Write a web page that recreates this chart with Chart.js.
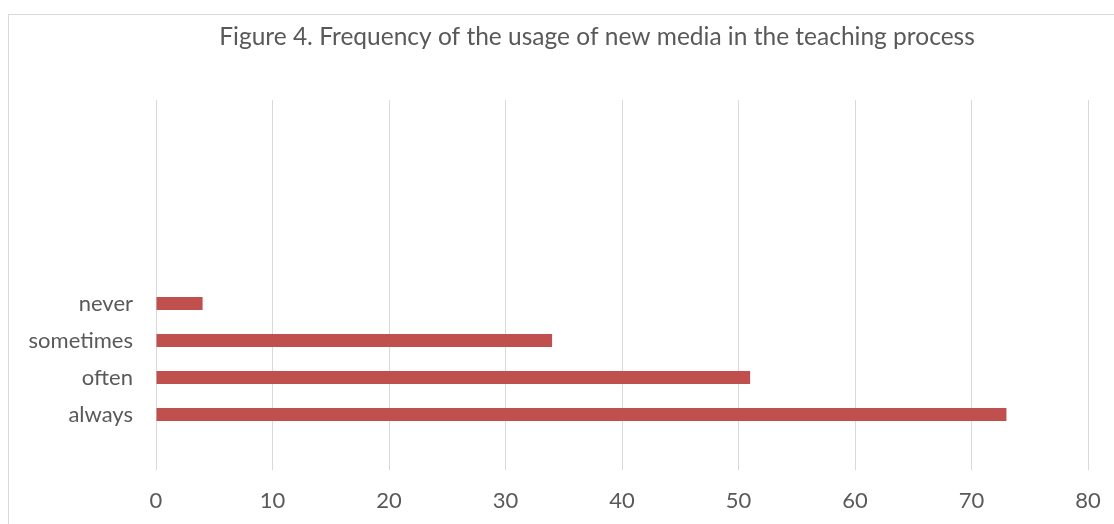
<!DOCTYPE html>
<html>
<head>
<meta charset="utf-8">
<script src="https://cdn.jsdelivr.net/npm/chart.js@4"></script>
<style>
  body { margin: 0; background: #fff; overflow: hidden; }
  #frame { position: absolute; left: 8px; top: 14px; width: 1200px; height: 600px; border: 1px solid #d9d9d9; box-sizing: border-box; }
  #wrap { position: absolute; left: 0; top: 0; width: 1114px; height: 524px; }
</style>
</head>
<body>
<div id="frame"></div>
<div id="wrap"><canvas id="chart"></canvas></div>
<script>
// categories top -> bottom; blank slots are empty rows in the original chart
const categories = ['', '', '', '', '', 'never', 'sometimes', 'often', 'always', ''];
const values = [null, null, null, null, null, 4, 34, 51, 73, null];
const xTicks = [0, 10, 20, 30, 40, 50, 60, 70, 80];
const chartTitle = 'Figure 4. Frequency of the usage of new media in the teaching process';

const textColor = '#595959';
const fontFamily = 'Lato, "Open Sans", sans-serif';

// title drawn at a fixed spot, like the excel frame does it
const titlePlugin = {
    id: 'frameTitle',
    afterDraw(chart) {
        const ctx = chart.ctx;
        ctx.save();
        ctx.font = '24.5px ' + fontFamily;
        ctx.fillStyle = textColor;
        ctx.textAlign = 'center';
        ctx.textBaseline = 'middle';
        ctx.fillText(chartTitle, 597, 37);
        ctx.restore();
    }
};

const ctx = document.getElementById('chart').getContext('2d');
new Chart(ctx, {
    type: 'bar',
    data: {
        labels: categories,
        datasets: [{
            label: 'Frequency',
            data: values,
            backgroundColor: '#c0504d',
            categoryPercentage: 1,
            barPercentage: 0.35
        }]
    },
    options: {
        indexAxis: 'y',
        responsive: true,
        maintainAspectRatio: false,
        animation: false,
        layout: { padding: { top: 100, right: 26, bottom: 0, left: 0 } },
        plugins: {
            legend: { display: false },
            title: { display: false },
            tooltip: { enabled: false }
        },
        scales: {
            x: {
                min: 0,
                max: 80,
                afterBuildTicks: (scale) => { scale.ticks = xTicks.map(v => ({ value: v })); },
                afterFit: (scale) => {
                    scale.height = 54;
                    scale.paddingLeft = 0;
                    scale.paddingRight = 0;
                },
                grid: { color: '#d9d9d9', lineWidth: 1, drawTicks: false },
                border: { display: false },
                ticks: { color: textColor, padding: 18, font: { family: fontFamily, size: 22 } }
            },
            y: {
                grid: { display: false, drawTicks: false },
                border: { display: false },
                afterFit: (scale) => { scale.width = 156; },
                ticks: { color: textColor, padding: 23, font: { family: fontFamily, size: 22 } }
            }
        }
    },
    plugins: [titlePlugin]
});
</script>
</body>
</html>
